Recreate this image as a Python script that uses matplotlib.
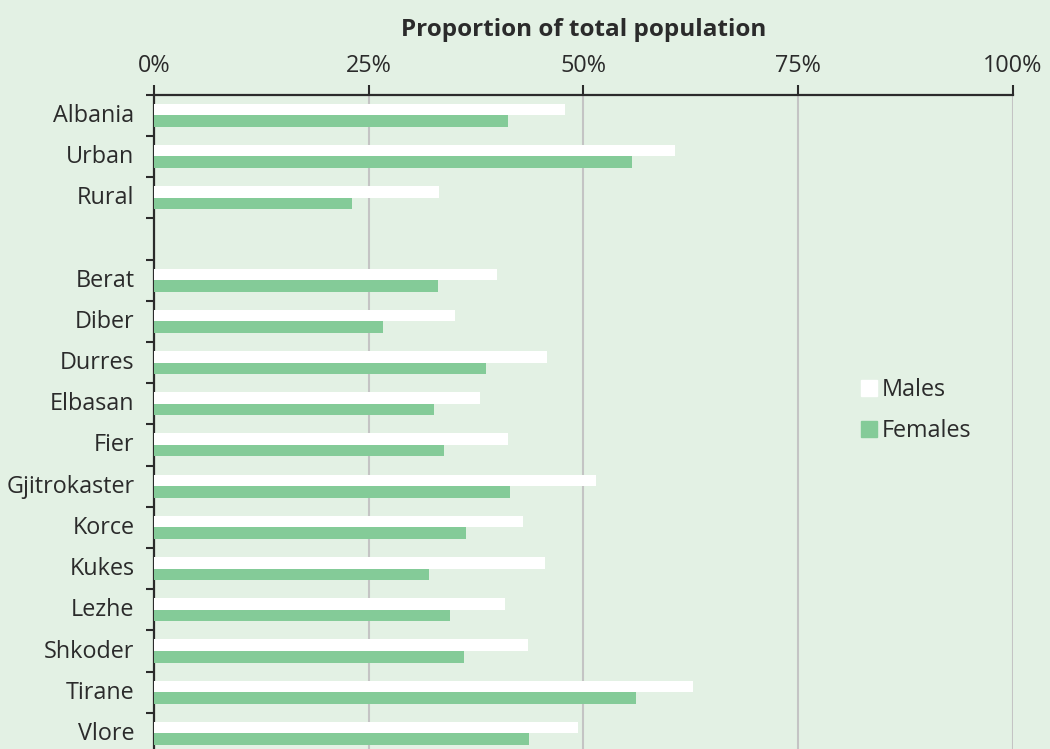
import numpy as np
import matplotlib
matplotlib.use('Agg')
import matplotlib.pyplot as plt
from matplotlib.lines import Line2D

plt.rcParams['font.family'] = ['Open Sans', 'DejaVu Sans']

# -----------------------------
# Data
# -----------------------------
categories = ['Albania', 'Urban', 'Rural', '',
              'Berat', 'Diber', 'Durres', 'Elbasan', 'Fier', 'Gjitrokaster',
              'Korce', 'Kukes', 'Lezhe', 'Shkoder', 'Tirane', 'Vlore']
males = [47.9, 60.6, 33.2, np.nan,
         39.9, 35.0, 45.7, 38.0, 41.2, 51.4,
         43.0, 45.5, 40.9, 43.5, 62.8, 49.4]
females = [41.2, 55.6, 23.1, np.nan,
           33.1, 26.6, 38.6, 32.6, 33.8, 41.4,
           36.3, 32.0, 34.5, 36.1, 56.1, 43.6]
x_ticks = [0, 25, 50, 75, 100]
x_tick_labels = ['0%', '25%', '50%', '75%', '100%']

bg = '#e3f1e4'
green = '#84cb98'
dark = '#2b2b2b'
fs = 16.8

fig = plt.figure(figsize=(10.5, 7.49), dpi=100, facecolor=bg)
ax = fig.add_axes([0.1467, -0.0067, 0.818, 0.8803])
ax.set_facecolor(bg)

y = np.arange(len(categories))
h = 0.28
ax.barh(y - h / 2, males, height=h, color='white', label='Males', zorder=3)
ax.barh(y + h / 2, females, height=h, color=green, label='Females', zorder=3)

ax.set_xlim(0, 100)
ax.set_ylim(len(categories) - 0.5, -0.5)

# x axis on top
ax.xaxis.tick_top()
ax.xaxis.set_label_position('top')
ax.set_xticks(x_ticks)
ax.set_xticklabels(x_tick_labels, fontsize=fs, color=dark)
ax.tick_params(axis='x', direction='out', length=7, width=1.5, color=dark, pad=5)
ax.set_xlabel('Proportion of total population', fontsize=17.5, fontweight='bold',
              color=dark, labelpad=13)
ax.grid(axis='x', color='#c4c4c4', linewidth=1.5, zorder=0)
ax.set_axisbelow(True)

# y axis: labels at slot centres, ticks at slot boundaries
ax.set_yticks(y - 0.06)
ax.set_yticklabels(categories, fontsize=fs, color=dark)
ax.tick_params(axis='y', which='major', length=0, pad=14)
ax.set_yticks(np.arange(len(categories) + 1) - 0.5, minor=True)
ax.tick_params(axis='y', which='minor', direction='out', length=6, width=1.5, color=dark)

for side in ['right', 'bottom']:
    ax.spines[side].set_visible(False)
for side in ['left', 'top']:
    ax.spines[side].set_color(dark)
    ax.spines[side].set_linewidth(1.6)

handles = [Line2D([], [], marker='s', linestyle='', markersize=11,
                  markerfacecolor='white', markeredgecolor='white'),
           Line2D([], [], marker='s', linestyle='', markersize=11,
                  markerfacecolor=green, markeredgecolor=green)]
fig.legend(handles, ['Males', 'Females'], loc='center left',
           bbox_to_anchor=(0.8, 0.452), frameon=False, fontsize=fs,
           handlelength=0.7, handletextpad=0.2, labelspacing=0.75,
           labelcolor=dark)

fig.savefig('out.png', dpi=100, facecolor=bg)
